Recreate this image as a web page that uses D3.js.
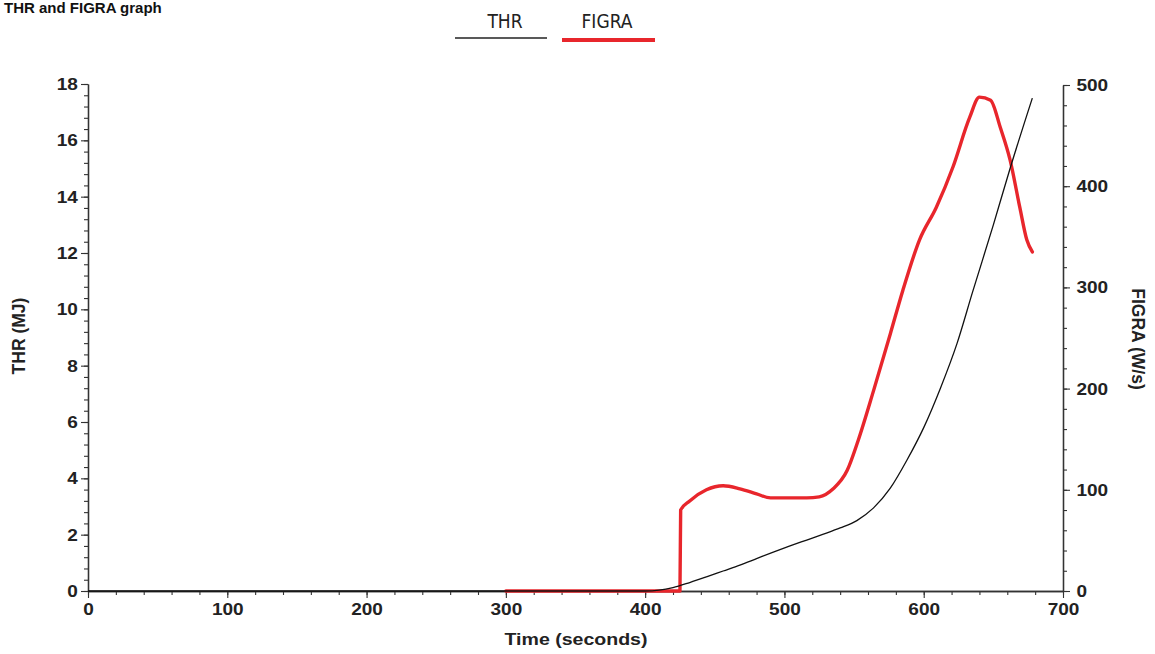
<!DOCTYPE html>
<html>
<head>
<meta charset="utf-8">
<script src="https://cdn.jsdelivr.net/npm/d3@7"></script>
<style>
  html, body { margin: 0; padding: 0; background: #fff; }
  svg { display: block; }
  .tick text { font-family: "Liberation Sans", Arial, sans-serif; font-weight: bold; font-size: 17px; fill: #222; }
</style>
</head>
<body>
<svg id="chart" width="1155" height="654"></svg>
<script>
// ---- Data ----
const thrTime  = [0, 400, 410, 420, 432, 444, 456, 468, 480, 492, 504, 516, 528, 540, 552, 564, 576, 588, 600, 612, 624, 635, 650, 662, 678];
const thrValue = [0, 0, 0.03, 0.12, 0.3, 0.5, 0.71, 0.92, 1.15, 1.38, 1.6, 1.81, 2.02, 2.24, 2.5, 2.95, 3.65, 4.65, 5.8, 7.2, 8.8, 10.6, 13.0, 15.0, 17.5];

const figraTime  = [300, 425, 425.5, 432, 444, 456, 468, 480, 490, 504, 516, 525, 535, 545, 553, 564, 576, 585, 597, 609, 621, 633, 640, 648, 655, 662, 669, 674, 678];
const figraValue = [0, 0, 80, 89, 100, 104, 101, 96, 92, 92, 92, 93, 101, 119, 149, 198, 254, 297, 347, 379, 419, 468, 488, 485, 458, 426, 379, 347, 335];

const xTicks      = [0, 100, 200, 300, 400, 500, 600, 700];
const thrTicks    = [0, 2, 4, 6, 8, 10, 12, 14, 16, 18];
const figraTicks  = [0, 100, 200, 300, 400, 500];
const seriesNames = ["THR", "FIGRA"];

(function () {
// ---- Layout ----
const svg = d3.select("#chart");
const pLeft = 88, pRight = 1063, pTop = 84, pBottom = 591;

const x  = d3.scaleLinear().domain([0, 700]).range([pLeft, pRight]);
const yL = d3.scaleLinear().domain([0, 18]).range([pBottom, pTop]);
const yR = d3.scaleLinear().domain([0, 500]).range([pBottom, pTop + 1]);

const axisColor = "#333";

function styleAxis(g) {
  g.selectAll("path.domain").attr("stroke", axisColor).attr("stroke-width", 1.3);
  g.selectAll(".tick line").attr("stroke", axisColor).attr("stroke-width", 1.1);
}

// minor ticks
svg.append("g").attr("transform", `translate(0,${pBottom})`)
  .call(d3.axisBottom(x).tickValues(d3.range(0, 701, 20)).tickSize(4).tickFormat("").tickSizeOuter(0))
  .call(styleAxis);
svg.append("g").attr("transform", `translate(${pLeft},0)`)
  .call(d3.axisLeft(yL).tickValues(d3.range(0, 18.01, 0.4)).tickSize(4).tickFormat("").tickSizeOuter(0))
  .call(styleAxis);
svg.append("g").attr("transform", `translate(${pRight},0)`)
  .call(d3.axisRight(yR).tickValues(d3.range(0, 501, 20)).tickSize(4).tickFormat("").tickSizeOuter(0))
  .call(styleAxis);

// major ticks
const gx = svg.append("g").attr("transform", `translate(0,${pBottom})`)
  .call(d3.axisBottom(x).tickValues(xTicks).tickSize(7).tickPadding(5).tickFormat(d3.format("d")).tickSizeOuter(0))
  .call(styleAxis);
gx.selectAll(".tick text").attr("transform", "scale(1.12,1)");

const gl = svg.append("g").attr("transform", `translate(${pLeft},0)`)
  .call(d3.axisLeft(yL).tickValues(thrTicks).tickSize(7).tickPadding(2).tickFormat(d3.format("d")).tickSizeOuter(0))
  .call(styleAxis);
gl.selectAll(".tick text").attr("transform", "scale(1.12,1)");

const gr = svg.append("g").attr("transform", `translate(${pRight},0)`)
  .call(d3.axisRight(yR).tickValues(figraTicks).tickSize(7).tickPadding(5).tickFormat(d3.format("d")).tickSizeOuter(0))
  .call(styleAxis);
gr.selectAll(".tick text").attr("transform", "scale(1.12,1)");

// ---- Lines ----
const thrData = thrTime.map((t, i) => [t, thrValue[i]]);
const figraData = figraTime.map((t, i) => [t, figraValue[i]]);

svg.append("path")
  .datum(figraData)
  .attr("fill", "none")
  .attr("stroke", "#e8262c")
  .attr("stroke-width", 3.4)
  .attr("stroke-linejoin", "round")
  .attr("stroke-linecap", "round")
  .attr("d", d3.line().x(d => x(d[0])).y(d => yR(d[1])).curve(d3.curveMonotoneX));

svg.append("path")
  .datum(thrData)
  .attr("fill", "none")
  .attr("stroke", "#111")
  .attr("stroke-width", 1.3)
  .attr("d", d3.line().x(d => x(d[0])).y(d => yL(d[1])).curve(d3.curveMonotoneX));

// ---- Titles ----
svg.append("text")
  .attr("x", 4).attr("y", 13)
  .attr("text-anchor", "start")
  .attr("font-family", "Liberation Sans, Arial, sans-serif")
  .attr("font-weight", "bold")
  .attr("font-size", 15)
  .attr("fill", "#111")
  .text("THR and FIGRA graph");

svg.append("text")
  .attr("x", 576).attr("y", 645)
  .attr("text-anchor", "middle")
  .attr("font-family", "Liberation Sans, Arial, sans-serif")
  .attr("font-weight", "bold")
  .attr("font-size", 17)
  .attr("fill", "#222")
  .attr("transform", "translate(576,0) scale(1.15,1) translate(-576,0)")
  .text("Time (seconds)");

svg.append("text")
  .attr("transform", "translate(25,336) rotate(-90)")
  .attr("text-anchor", "middle")
  .attr("font-family", "Liberation Sans, Arial, sans-serif")
  .attr("font-weight", "bold")
  .attr("font-size", 17.5)
  .attr("fill", "#222")
  .text("THR (MJ)");

svg.append("text")
  .attr("transform", "translate(1132,339) rotate(90)")
  .attr("text-anchor", "middle")
  .attr("font-family", "Liberation Sans, Arial, sans-serif")
  .attr("font-weight", "bold")
  .attr("font-size", 17.5)
  .attr("fill", "#222")
  .text("FIGRA (W/s)");

// ---- Legend ----
const legend = [
  { name: seriesNames[0], cx: 505, x1: 455, x2: 547, y: 38, color: "#222", w: 1.6 },
  { name: seriesNames[1], cx: 607, x1: 562, x2: 655, y: 40, color: "#e8262c", w: 4 }
];
legend.forEach(l => {
  svg.append("text")
    .attr("x", l.cx).attr("y", 28)
    .attr("text-anchor", "middle")
    .attr("font-family", "DejaVu Sans Condensed, DejaVu Sans, sans-serif")
    .attr("font-size", 19)
    .attr("fill", "#222")
    .text(l.name);
  svg.append("line")
    .attr("x1", l.x1).attr("x2", l.x2)
    .attr("y1", l.y).attr("y2", l.y)
    .attr("stroke", l.color).attr("stroke-width", l.w);
});
})();
</script>
</body>
</html>
